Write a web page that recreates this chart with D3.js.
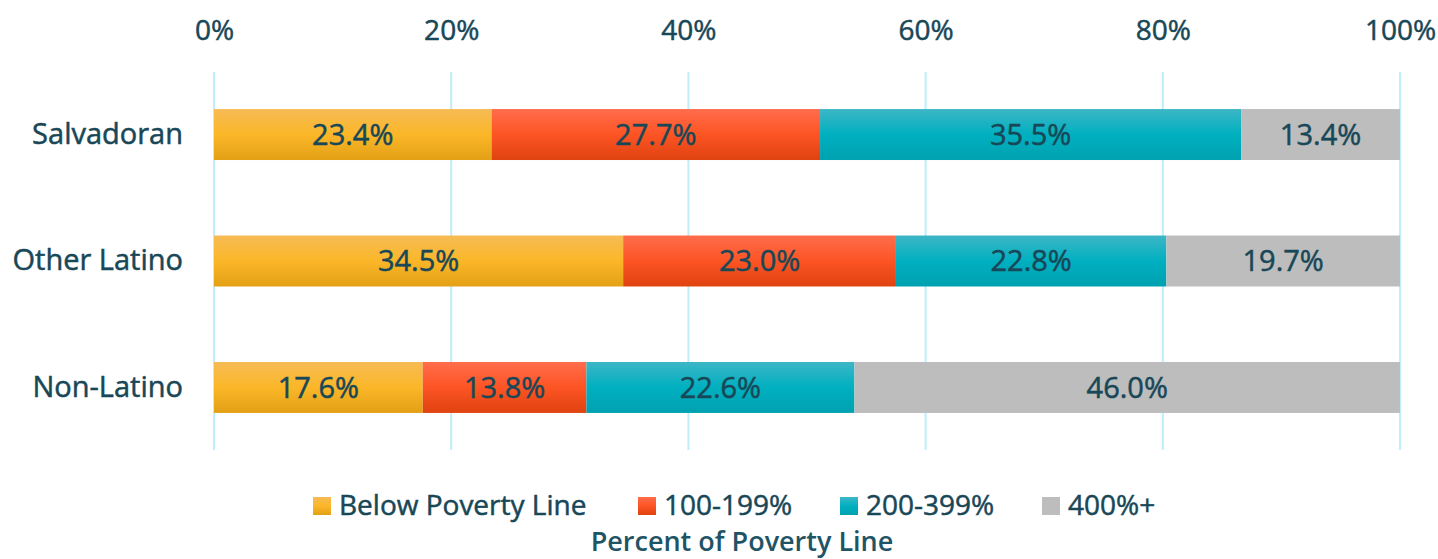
<!DOCTYPE html>
<html>
<head>
<meta charset="utf-8">
<script src="https://cdn.jsdelivr.net/npm/d3@7"></script>
<style>
  body { margin: 0; background: #fff; }
  text { font-family: "Open Sans", sans-serif; }
  .lbl { stroke: #184757; stroke-width: 0.5px; }
</style>
</head>
<body>
<div id="chart"></div>
<script>
// data
var groups = ["Salvadoran", "Other Latino", "Non-Latino"];
var seriesNames = ["Below Poverty Line", "100-199%", "200-399%", "400%+"];
var belowPoverty = [23.4, 34.5, 17.6];
var pct100to199 = [27.7, 23.0, 13.8];
var pct200to399 = [35.5, 22.8, 22.6];
var pct400plus = [13.4, 19.7, 46.0];
var tickValues = [0, 20, 40, 60, 80, 100];

var svgWidth = 1438;
var svgHeight = 559;
var margin = { top: 72, right: 38, bottom: 109, left: 214 };
var width = svgWidth - margin.left - margin.right;
var height = 378;

var colors = [
  ["#f6bb55", "#fbb728", "#e3a015"],
  ["#ff6d4c", "#fd5424", "#df4310"],
  ["#3db6c6", "#00b0c0", "#00a1b0"],
  ["#bdbdbd", "#bdbdbd", "#bdbdbd"]
];
var textColor = "#184757";

var svg = d3.select("#chart").append("svg")
  .attr("width", svgWidth).attr("height", svgHeight);

// vertical gradients for the bars
var defs = svg.append("defs");
colors.forEach(function(c, i) {
  var g = defs.append("linearGradient").attr("id", "grad" + i)
    .attr("x1", 0).attr("y1", 0).attr("x2", 0).attr("y2", 1);
  g.append("stop").attr("offset", "0%").attr("stop-color", c[0]);
  g.append("stop").attr("offset", "50%").attr("stop-color", c[1]);
  g.append("stop").attr("offset", "100%").attr("stop-color", c[2]);
});

var chartGroup = svg.append("g")
  .attr("transform", `translate(${margin.left}, ${margin.top})`);

var x = d3.scaleLinear().domain([0, 100]).range([0, width]);
var y = d3.scaleBand().domain(groups).range([0, height]).paddingInner(0.597).paddingOuter(0.293);

// grid lines
chartGroup.selectAll(".grid").data(tickValues).enter().append("line")
  .attr("x1", d => x(d)).attr("x2", d => x(d))
  .attr("y1", 0).attr("y2", height)
  .attr("stroke", "#bdeefa").attr("stroke-width", 2);

// top tick labels
var topAxis = d3.axisTop(x).tickValues(tickValues).tickFormat(d => d + "%").tickSize(0).tickPadding(42);
var ax = chartGroup.append("g").call(topAxis);
ax.select(".domain").remove();
ax.selectAll("text").attr("class", "lbl").attr("fill", textColor).style("font-size", "28px").attr("dy", "0.35em");

// category labels
var leftAxis = d3.axisLeft(y).tickSize(0).tickPadding(31);
var ay = chartGroup.append("g").call(leftAxis);
ay.select(".domain").remove();
ay.selectAll("text").attr("class", "lbl").attr("fill", textColor).style("font-size", "29px");

// stack
var table = groups.map(function(g, i) {
  return { group: g, s0: belowPoverty[i], s1: pct100to199[i], s2: pct200to399[i], s3: pct400plus[i] };
});
var stack = d3.stack().keys(["s0", "s1", "s2", "s3"])(table);

var layers = chartGroup.selectAll(".layer").data(stack).enter().append("g")
  .attr("fill", (d, i) => `url(#grad${i})`);

layers.selectAll("rect").data(d => d).enter().append("rect")
  .attr("x", d => x(d[0]))
  .attr("width", d => x(d[1]) - x(d[0]))
  .attr("y", d => y(d.data.group))
  .attr("height", y.bandwidth());

layers.selectAll("text").data(d => d).enter().append("text")
  .attr("class", "lbl")
  .attr("x", d => (x(d[0]) + x(d[1])) / 2)
  .attr("y", d => y(d.data.group) + y.bandwidth() / 2)
  .attr("dy", "0.35em")
  .attr("text-anchor", "middle")
  .attr("fill", textColor)
  .style("font-size", "29px")
  .text(d => (d[1] - d[0]).toFixed(1) + "%");

// legend
var legendX = [313, 638, 840, 1042];
var legend = svg.append("g").attr("transform", "translate(0, 505)");
seriesNames.forEach(function(name, i) {
  legend.append("rect").attr("x", legendX[i]).attr("y", -8).attr("width", 18).attr("height", 18)
    .attr("fill", `url(#grad${i})`);
  legend.append("text").attr("class", "lbl").attr("x", legendX[i] + 26).attr("y", 0).attr("dy", "0.35em")
    .attr("fill", textColor).style("font-size", "28px").text(name);
});

svg.append("text")
  .attr("x", 742).attr("y", 551)
  .attr("text-anchor", "middle")
  .attr("fill", "#1f5466")
  .style("font-size", "27px").style("font-weight", "600")
  .text("Percent of Poverty Line");
</script>
</body>
</html>
